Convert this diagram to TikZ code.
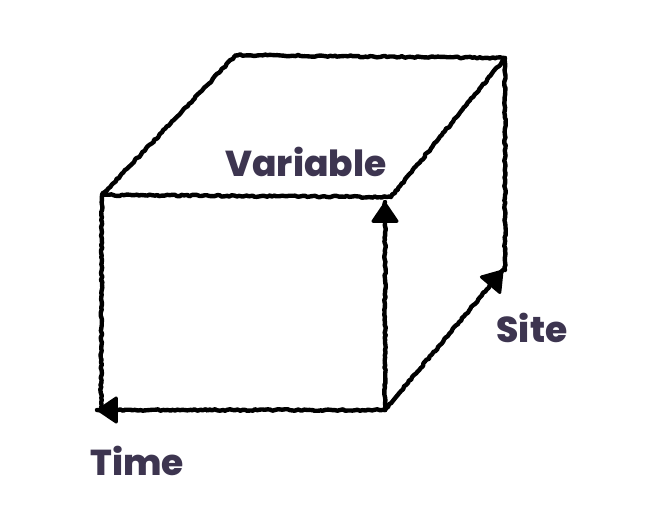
\documentclass[tikz,border=0pt]{standalone}
\usepackage{fontspec}
\newfontfamily\pop{Poppins}[BoldFont={Poppins ExtraBold}]
\usetikzlibrary{arrows.meta,decorations.pathmorphing,calc}
\definecolor{labelcol}{HTML}{3D3550}
\begin{document}
\begin{tikzpicture}[x=1pt,y=-1pt,
  sketch/.style={draw=black,line width=4.4pt,line cap=round,line join=round,
    decorate,decoration={random steps,segment length=2.5pt,amplitude=0.8pt}},
  tipstyle/.style={draw=black,fill=black,line width=3pt,line join=round,
    -{Triangle[length=22pt,width=29pt,line join=round]}},
  lbl/.style={text=labelcol,font=\pop\bfseries\fontsize{36}{40}\selectfont,inner sep=0pt}]
\useasboundingbox (0,0) rectangle (656,507);
\coordinate (FTL) at (102,195);
\coordinate (FTR) at (391,197);
\coordinate (FBL) at (101,410);
\coordinate (FBR) at (385,410);
\coordinate (BTL) at (236,55);
\coordinate (BTR) at (505,58);
\coordinate (BBR) at (505,270);
\coordinate (TimeEnd) at (97,410);
\coordinate (VarEnd) at (385,202);
\coordinate (SiteEnd) at (503,270);
% cube edges
\draw[sketch] (FTL) -- (FTR) -- (BTR) -- (BTL) -- cycle;
\draw[sketch] (FTL) -- (FBL);
\draw[sketch] (BTR) -- (BBR);
% axes
\draw[sketch] (FBR) -- (TimeEnd);
\draw[sketch] (FBR) -- (VarEnd);
\draw[sketch] (FBR) -- (SiteEnd);
\draw[tipstyle] ($(TimeEnd)!18pt!(FBR)$) -- (TimeEnd);
\draw[tipstyle] ($(VarEnd)!18pt!(FBR)$) -- (VarEnd);
\draw[tipstyle] ($(SiteEnd)!18pt!(FBR)$) -- (SiteEnd);
% labels
\node[lbl] (var) at (306,162) {Variable};
\node[lbl] (site) at (532,328) {Site};
\node[lbl] (time) at (137,461) {Time};
\end{tikzpicture}
\end{document}
